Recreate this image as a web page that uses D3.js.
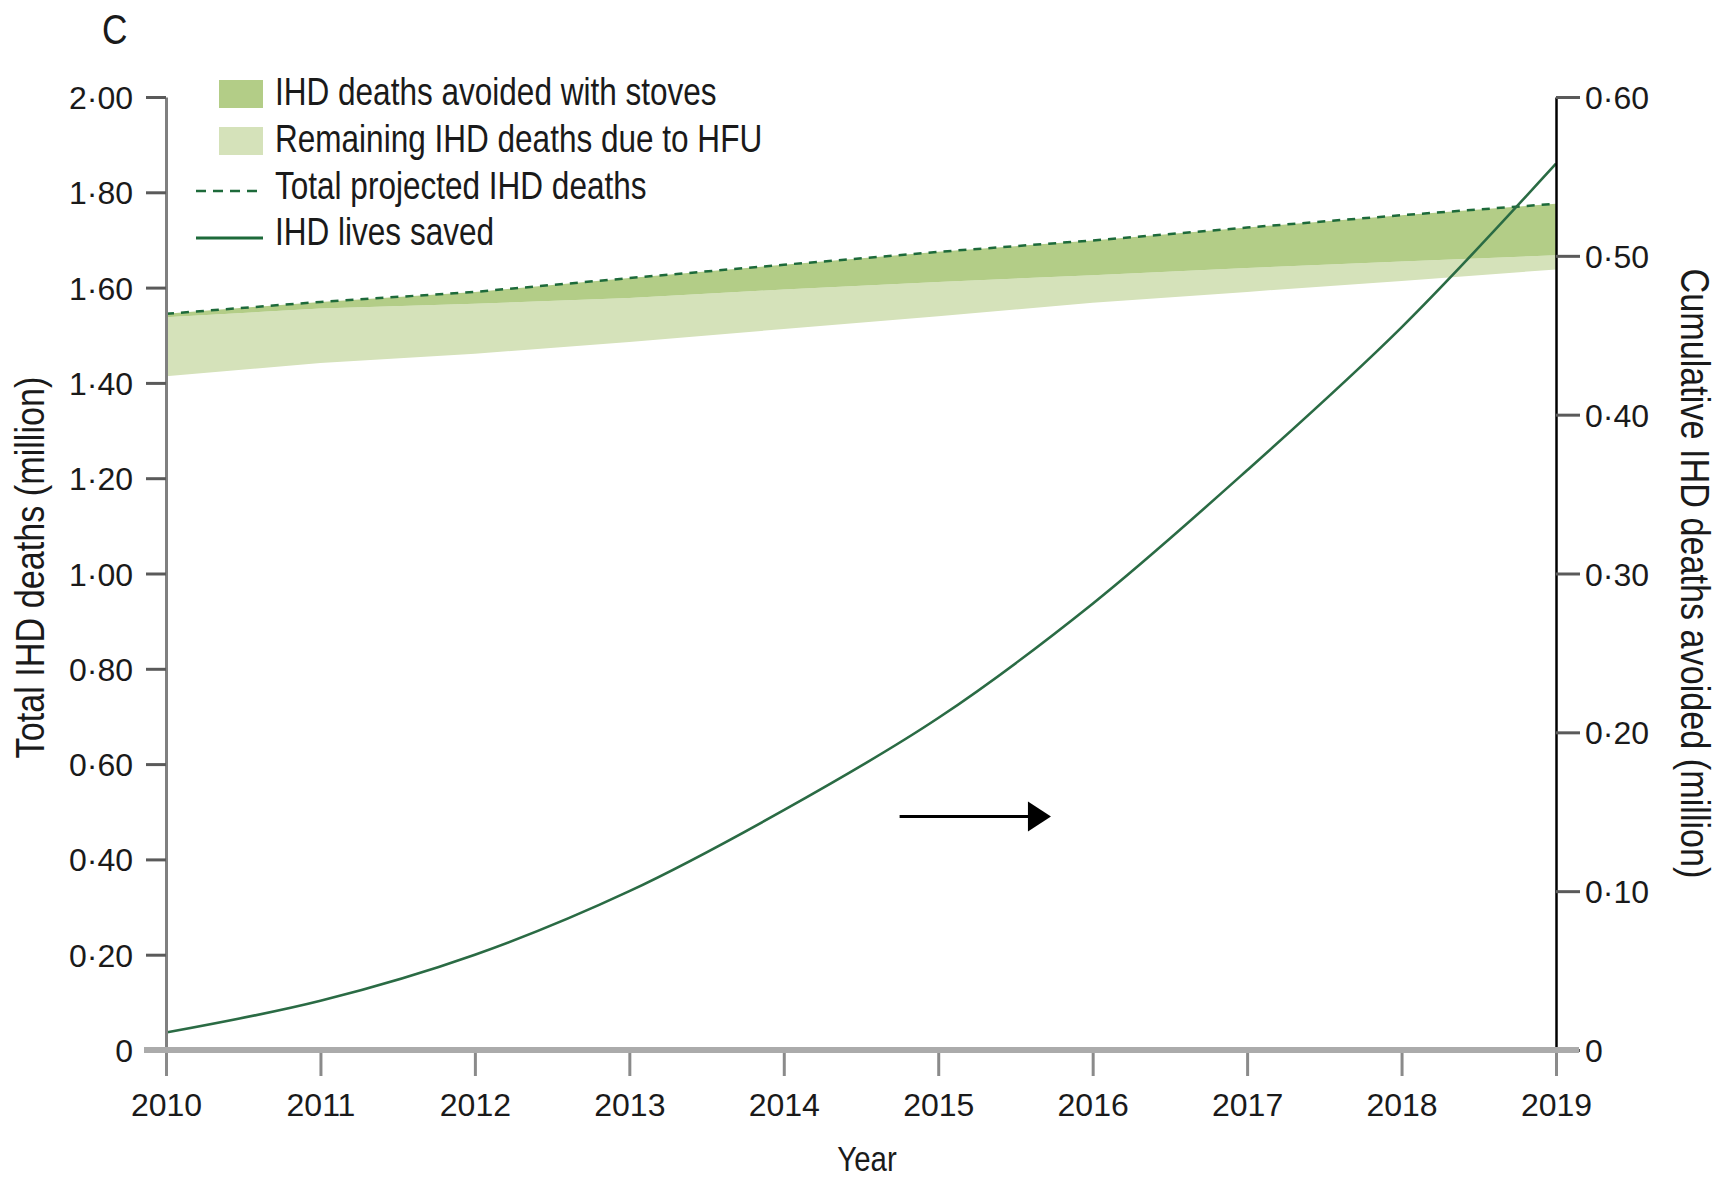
<!DOCTYPE html>
<html>
<head>
<meta charset="utf-8">
<script src="https://cdn.jsdelivr.net/npm/d3@7"></script>
<style>
  html, body { margin: 0; padding: 0; background: #fff; }
  svg { display: block; }
  .tick text { font-family: "Liberation Sans", Arial, sans-serif; font-size: 32px; fill: #1a1a1a; }
  .lbl { font-family: "Liberation Sans", Arial, sans-serif; fill: #1a1a1a; }
</style>
</head>
<body>
<svg id="chart" width="1723" height="1178"></svg>
<script>
// Projected ischaemic heart disease (IHD) deaths, millions
const years = [2010, 2011, 2012, 2013, 2014, 2015, 2016, 2017, 2018, 2019];
const totalDeaths        = [1.545, 1.570, 1.591, 1.620, 1.648, 1.675, 1.699, 1.726, 1.752, 1.776];
const avoidedDeaths      = [0.007, 0.014, 0.025, 0.042, 0.052, 0.063, 0.073, 0.085, 0.097, 0.108];
const remainingHfuDeaths = [0.124, 0.114, 0.105, 0.092, 0.083, 0.072, 0.058, 0.050, 0.041, 0.030];
// Cumulative lives saved (right axis), millions
const livesSaved = [0.011, 0.031, 0.060, 0.100, 0.151, 0.209, 0.281, 0.365, 0.455, 0.558];

const leftTicks  = [0, 0.2, 0.4, 0.6, 0.8, 1.0, 1.2, 1.4, 1.6, 1.8, 2.0];
const rightTicks = [0, 0.1, 0.2, 0.3, 0.4, 0.5, 0.6];
const legendItems = [
  "IHD deaths avoided with stoves",
  "Remaining IHD deaths due to HFU",
  "Total projected IHD deaths",
  "IHD lives saved"
];
// Arrow pointing readers to the right-hand axis: [year, right-axis value]
const arrowFrom = [2014.75, 0.147];
const arrowTo   = [2015.73, 0.147];

const plot = { left: 166, right: 1556, top: 97, bottom: 1050 };
const colors = {
  avoided: "#b3cd87",
  remaining: "#d5e2ba",
  line: "#2a6b44",
  dash: "#1d6a3a"
};
// Horizontal squeeze giving the condensed look of the label face
const narrow = 0.84;

const svg = d3.select("#chart");
const x = d3.scaleLinear().domain([2010, 2019]).range([plot.left, plot.right]);
const yL = d3.scaleLinear().domain([0, 2]).range([plot.bottom, plot.top]);
const yR = d3.scaleLinear().domain([0, 0.6]).range([plot.bottom, plot.top]);

const fmt = v => v === 0 ? "0" : d3.format(".2f")(v).replace(".", "\u00b7");

const rows = years.map((yr, i) => ({
  year: yr,
  total: totalDeaths[i],
  withStoves: totalDeaths[i] - avoidedDeaths[i],
  base: totalDeaths[i] - avoidedDeaths[i] - remainingHfuDeaths[i],
  saved: livesSaved[i]
}));

// Stacked bands
svg.append("path").datum(rows)
  .attr("fill", colors.remaining)
  .attr("d", d3.area().x(d => x(d.year)).y0(d => yL(d.base)).y1(d => yL(d.withStoves)));
svg.append("path").datum(rows)
  .attr("fill", colors.avoided)
  .attr("d", d3.area().x(d => x(d.year)).y0(d => yL(d.withStoves)).y1(d => yL(d.total)));

// Total projected deaths (dashed)
svg.append("path").datum(rows)
  .attr("fill", "none").attr("stroke", colors.dash).attr("stroke-width", 2.5)
  .attr("stroke-dasharray", "8,7")
  .attr("d", d3.line().x(d => x(d.year)).y(d => yL(d.total)));

// Cumulative lives saved
svg.append("path").datum(rows)
  .attr("fill", "none").attr("stroke", colors.line).attr("stroke-width", 2.6)
  .attr("d", d3.line().curve(d3.curveCatmullRom).x(d => x(d.year)).y(d => yR(d.saved)));

// Left axis
const gL = svg.append("g").attr("transform", `translate(${plot.left},0)`)
  .call(d3.axisLeft(yL).tickValues(leftTicks).tickFormat(fmt).tickSize(20).tickSizeOuter(0).tickPadding(13));
gL.select(".domain").attr("stroke", "#808080").attr("stroke-width", 3);
gL.selectAll(".tick line").attr("stroke", "#5a5a5a").attr("stroke-width", 3);
gL.selectAll(".tick text").attr("dy", "0.36em");

// Right axis
const gR = svg.append("g").attr("transform", `translate(${plot.right},0)`)
  .call(d3.axisRight(yR).tickValues(rightTicks).tickFormat(fmt).tickSize(24).tickSizeOuter(0).tickPadding(5));
gR.select(".domain").attr("stroke", "#000").attr("stroke-width", 2.5);
gR.selectAll(".tick line").attr("stroke", "#5a5a5a").attr("stroke-width", 3);
gR.selectAll(".tick text").attr("dy", "0.36em");

// Bottom axis
const gB = svg.append("g").attr("transform", `translate(0,${plot.bottom})`)
  .call(d3.axisBottom(x).tickValues(years).tickFormat(d3.format("d")).tickSize(26).tickSizeOuter(0).tickPadding(17));
gB.select(".domain").remove();
gB.selectAll(".tick line").attr("stroke", "#8a8a8a").attr("stroke-width", 3);
gB.append("line")
  .attr("x1", plot.left - 22).attr("x2", plot.right + 23)
  .attr("y1", 0).attr("y2", 0)
  .attr("stroke", "#ababab").attr("stroke-width", 6);

// Axis titles and panel letter
svg.append("text").attr("class", "lbl")
  .attr("transform", `translate(44,${(plot.top + plot.bottom) / 2 - 6}) rotate(-90) scale(0.855,1)`)
  .attr("text-anchor", "middle").attr("font-size", 40)
  .text("Total IHD deaths (million)");
svg.append("text").attr("class", "lbl")
  .attr("transform", `translate(1681,${(plot.top + plot.bottom) / 2}) rotate(90) scale(0.855,1)`)
  .attr("text-anchor", "middle").attr("font-size", 40)
  .text("Cumulative IHD deaths avoided (million)");
svg.append("text").attr("class", "lbl")
  .attr("transform", `translate(${(plot.left + plot.right) / 2 + 6},1171) scale(${narrow},1)`)
  .attr("text-anchor", "middle").attr("font-size", 35)
  .text("Year");
svg.append("text").attr("class", "lbl")
  .attr("transform", `translate(102,44) scale(${narrow},1)`)
  .attr("font-size", 42)
  .text("C");

// Arrow toward the right axis
svg.append("line")
  .attr("x1", x(arrowFrom[0])).attr("y1", yR(arrowFrom[1]))
  .attr("x2", x(arrowTo[0]) - 22).attr("y2", yR(arrowTo[1]))
  .attr("stroke", "#000").attr("stroke-width", 3);
{
  const tx = x(arrowTo[0]), ty = yR(arrowTo[1]);
  svg.append("path")
    .attr("d", `M${tx},${ty} L${tx - 23},${ty - 15} L${tx - 23},${ty + 15} Z`)
    .attr("fill", "#000");
}

// Legend
const lg = svg.append("g");
const rowY = [94, 141, 191, 238];
const textBaseline = [105, 152, 199, 245];
lg.append("rect").attr("x", 219).attr("y", rowY[0] - 14).attr("width", 44).attr("height", 28).attr("fill", colors.avoided);
lg.append("rect").attr("x", 219).attr("y", rowY[1] - 14).attr("width", 44).attr("height", 28).attr("fill", colors.remaining);
lg.append("line").attr("x1", 196).attr("x2", 263).attr("y1", rowY[2]).attr("y2", rowY[2])
  .attr("stroke", colors.dash).attr("stroke-width", 2.5).attr("stroke-dasharray", "10,7");
lg.append("line").attr("x1", 196).attr("x2", 263).attr("y1", rowY[3]).attr("y2", rowY[3])
  .attr("stroke", colors.dash).attr("stroke-width", 3);
lg.selectAll("text.leg").data(legendItems).join("text")
  .attr("class", "lbl leg")
  .attr("transform", (d, i) => `translate(275,${textBaseline[i]}) scale(0.83,1)`)
  .attr("font-size", 38)
  .text(d => d);
</script>
</body>
</html>
